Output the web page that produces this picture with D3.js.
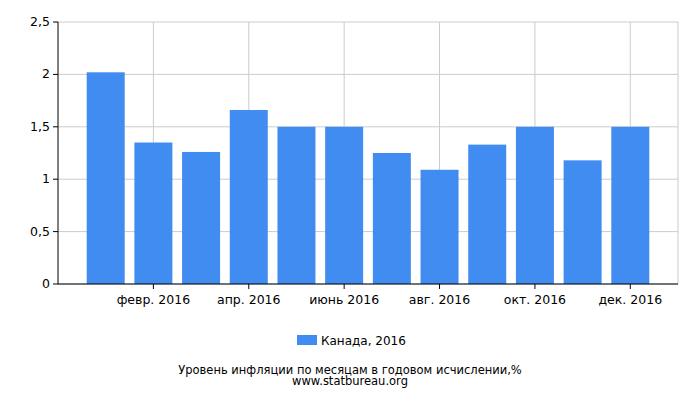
<!DOCTYPE html><html><head><meta charset="utf-8"><script src="https://cdn.jsdelivr.net/npm/d3@7"></script>
<style>body{margin:0;background:#fff}text{font-family:"DejaVu Sans",sans-serif;font-size:12.5px;fill:#000}</style></head><body>
<svg id="c" width="700" height="400"></svg>
<script>
const months=["янв. 2016","февр. 2016","март 2016","апр. 2016","май 2016","июнь 2016","июль 2016","авг. 2016","сент. 2016","окт. 2016","нояб. 2016","дек. 2016"];
const values=[2.02,1.35,1.26,1.66,1.50,1.50,1.25,1.09,1.33,1.50,1.18,1.50];
const yTicks=[0,0.5,1,1.5,2,2.5];
const tickLabels=["0","0,5","1","1,5","2","2,5"];
const svg=d3.select("#c");
const L=58,R=678,T=22,B=284;
const x=d3.scaleLinear().domain([0,13]).range([L,R]);
const y=d3.scaleLinear().domain([0,2.5]).range([B,T]);
const g=svg.append("g");
yTicks.forEach((t,i)=>{
 g.append("line").attr("x1",L).attr("x2",R).attr("y1",y(t)).attr("y2",y(t)).attr("stroke","#ccc");
 g.append("line").attr("x1",L-5).attr("x2",L).attr("y1",y(t)).attr("y2",y(t)).attr("stroke","#000");
 g.append("text").attr("x",L-8).attr("y",y(t)+4).attr("text-anchor","end").text(tickLabels[i]);
});
months.forEach((m,i)=>{ if(i%2==1){
 g.append("line").attr("x1",x(i+1)).attr("x2",x(i+1)).attr("y1",T).attr("y2",B).attr("stroke","#ccc");
 g.append("line").attr("x1",x(i+1)).attr("x2",x(i+1)).attr("y1",B).attr("y2",B+5).attr("stroke","#000");
 g.append("text").attr("x",x(i+1)).attr("y",B+20).attr("text-anchor","middle").text(m);
}});
g.append("line").attr("x1",R).attr("x2",R).attr("y1",T).attr("y2",B).attr("stroke","#ccc");
g.selectAll("rect.b").data(values).enter().append("rect").attr("fill","#418cf0")
 .attr("x",(d,i)=>x(i+1)-19).attr("width",38).attr("y",d=>y(d)).attr("height",d=>B-y(d));
g.append("line").attr("x1",L).attr("x2",L).attr("y1",T).attr("y2",B).attr("stroke","#000");
g.append("line").attr("x1",L).attr("x2",R).attr("y1",B).attr("y2",B).attr("stroke","#000");
svg.append("rect").attr("x",297).attr("y",335).attr("width",20).attr("height",10).attr("fill","#418cf0");
svg.append("text").attr("x",321).attr("y",345).style("font-size","12px").text("Канада, 2016");
svg.append("text").attr("x",350).attr("y",374).attr("text-anchor","middle").style("font-size","11.5px").text("Уровень инфляции по месяцам в годовом исчислении,%");
svg.append("text").attr("x",350).attr("y",385).attr("text-anchor","middle").style("font-size","11.5px").text("www.statbureau.org");
</script></body></html>
